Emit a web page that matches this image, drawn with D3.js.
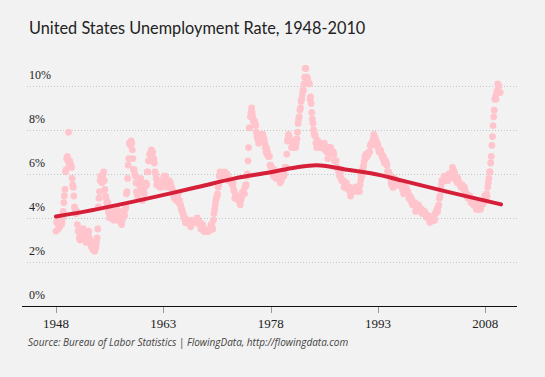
<!DOCTYPE html>
<html>
<head>
<meta charset="utf-8">
<script src="https://cdn.jsdelivr.net/npm/d3@7"></script>
<style>
  body { margin: 0; background: #f2f2f2; }
  svg { display: block; }
</style>
</head>
<body>
<div id="chart"><svg width="545" height="377"></svg></div>
<script>
// monthly unemployment rate (%), one row per year, Jan 1948 onward
const startYear = 1948;
const monthlyRates = [
  3.4, 3.8, 4.0, 3.9, 3.5, 3.6, 3.6, 3.9, 3.8, 3.7, 3.8, 4.0,
  4.3, 4.7, 5.0, 5.3, 6.1, 6.2, 6.7, 6.8, 6.6, 7.9, 6.4, 6.6,
  6.5, 6.4, 6.3, 5.8, 5.5, 5.4, 5.0, 4.5, 4.4, 4.2, 4.2, 4.3,
  3.7, 3.4, 3.4, 3.1, 3.0, 3.2, 3.1, 3.1, 3.3, 3.5, 3.5, 3.1,
  3.2, 3.1, 2.9, 2.9, 3.0, 3.0, 3.2, 3.4, 3.1, 3.0, 2.8, 2.7,
  2.9, 2.6, 2.6, 2.7, 2.5, 2.5, 2.6, 2.7, 2.9, 3.1, 3.5, 4.5,
  4.9, 5.2, 5.7, 5.9, 5.9, 5.6, 5.8, 6.0, 6.1, 5.7, 5.3, 5.0,
  4.9, 4.7, 4.6, 4.7, 4.3, 4.2, 4.0, 4.2, 4.1, 4.3, 4.2, 4.2,
  4.0, 3.9, 4.2, 4.0, 4.3, 4.3, 4.4, 4.1, 3.9, 3.9, 4.3, 4.2,
  4.2, 3.9, 3.7, 3.9, 4.1, 4.3, 4.2, 4.1, 4.4, 4.5, 5.1, 5.2,
  5.8, 6.4, 6.7, 7.4, 7.4, 7.3, 7.5, 7.4, 7.1, 6.7, 6.2, 6.2,
  6.0, 5.9, 5.6, 5.2, 5.1, 5.0, 5.1, 5.2, 5.5, 5.7, 5.8, 5.3,
  5.2, 4.8, 5.4, 5.2, 5.1, 5.4, 5.5, 5.6, 5.5, 6.1, 6.1, 6.6,
  6.6, 6.9, 6.9, 7.0, 7.1, 6.9, 7.0, 6.6, 6.7, 6.5, 6.1, 6.0,
  5.8, 5.5, 5.6, 5.6, 5.5, 5.5, 5.4, 5.7, 5.6, 5.4, 5.7, 5.5,
  5.7, 5.9, 5.7, 5.7, 5.9, 5.6, 5.6, 5.4, 5.5, 5.5, 5.7, 5.5,
  5.6, 5.4, 5.4, 5.3, 5.1, 5.2, 4.9, 5.0, 5.1, 5.1, 4.8, 5.0,
  4.9, 5.1, 4.7, 4.8, 4.6, 4.6, 4.4, 4.4, 4.3, 4.2, 4.1, 4.0,
  4.0, 3.8, 3.8, 3.8, 3.9, 3.8, 3.8, 3.8, 3.7, 3.7, 3.6, 3.8,
  3.9, 3.8, 3.8, 3.8, 3.8, 3.9, 3.8, 3.8, 3.8, 4.0, 3.9, 3.8,
  3.7, 3.8, 3.7, 3.5, 3.5, 3.7, 3.7, 3.5, 3.4, 3.4, 3.4, 3.4,
  3.4, 3.4, 3.4, 3.4, 3.4, 3.5, 3.5, 3.5, 3.7, 3.7, 3.5, 3.5,
  3.9, 4.2, 4.4, 4.6, 4.8, 4.9, 5.0, 5.1, 5.4, 5.5, 5.9, 6.1,
  5.9, 5.9, 6.0, 5.9, 5.9, 5.9, 6.0, 6.1, 6.0, 5.8, 6.0, 6.0,
  5.8, 5.7, 5.8, 5.7, 5.7, 5.7, 5.6, 5.6, 5.5, 5.6, 5.3, 5.2,
  4.9, 5.0, 4.9, 5.0, 4.9, 4.9, 4.8, 4.8, 4.8, 4.6, 4.8, 4.9,
  5.1, 5.2, 5.1, 5.1, 5.1, 5.4, 5.5, 5.5, 5.9, 6.0, 6.6, 7.2,
  8.1, 8.1, 8.6, 8.8, 9.0, 8.8, 8.6, 8.4, 8.4, 8.4, 8.3, 8.2,
  7.9, 7.7, 7.6, 7.7, 7.4, 7.6, 7.8, 7.8, 7.6, 7.7, 7.8, 7.8,
  7.5, 7.6, 7.4, 7.2, 7.0, 7.2, 6.9, 7.0, 6.8, 6.8, 6.8, 6.4,
  6.4, 6.3, 6.3, 6.1, 6.0, 5.9, 6.2, 5.9, 6.0, 5.8, 5.9, 6.0,
  5.9, 5.9, 5.8, 5.8, 5.6, 5.7, 5.7, 6.0, 5.9, 6.0, 5.9, 6.0,
  6.3, 6.3, 6.3, 6.9, 7.5, 7.6, 7.8, 7.7, 7.5, 7.5, 7.5, 7.2,
  7.5, 7.4, 7.4, 7.2, 7.5, 7.5, 7.2, 7.4, 7.6, 7.9, 8.3, 8.5,
  8.6, 8.9, 9.0, 9.3, 9.4, 9.6, 9.8, 9.8, 10.1, 10.4, 10.8, 10.8,
  10.4, 10.4, 10.3, 10.2, 10.1, 10.1, 9.4, 9.5, 9.2, 8.8, 8.5, 8.3,
  8.0, 7.8, 7.8, 7.7, 7.4, 7.2, 7.5, 7.5, 7.3, 7.4, 7.2, 7.3,
  7.3, 7.2, 7.2, 7.3, 7.2, 7.4, 7.4, 7.1, 7.1, 7.1, 7.0, 7.0,
  6.7, 7.2, 7.2, 7.1, 7.2, 7.2, 7.0, 6.9, 7.0, 7.0, 6.9, 6.6,
  6.6, 6.6, 6.6, 6.3, 6.3, 6.2, 6.1, 6.0, 5.9, 6.0, 5.8, 5.7,
  5.7, 5.7, 5.7, 5.4, 5.6, 5.4, 5.4, 5.6, 5.4, 5.4, 5.3, 5.3,
  5.4, 5.2, 5.0, 5.2, 5.2, 5.3, 5.2, 5.2, 5.3, 5.3, 5.4, 5.4,
  5.4, 5.3, 5.2, 5.4, 5.4, 5.2, 5.5, 5.7, 5.9, 5.9, 6.2, 6.3,
  6.4, 6.6, 6.8, 6.7, 6.9, 6.9, 6.8, 6.9, 6.9, 7.0, 7.0, 7.3,
  7.3, 7.4, 7.4, 7.4, 7.6, 7.8, 7.7, 7.6, 7.6, 7.3, 7.4, 7.4,
  7.3, 7.1, 7.0, 7.1, 7.1, 7.0, 6.9, 6.8, 6.7, 6.8, 6.6, 6.5,
  6.6, 6.6, 6.5, 6.4, 6.1, 6.1, 6.1, 6.0, 5.9, 5.8, 5.6, 5.5,
  5.6, 5.4, 5.4, 5.8, 5.6, 5.6, 5.7, 5.7, 5.6, 5.5, 5.6, 5.6,
  5.6, 5.5, 5.5, 5.6, 5.6, 5.3, 5.5, 5.1, 5.2, 5.2, 5.4, 5.4,
  5.3, 5.2, 5.2, 5.1, 4.9, 5.0, 4.9, 4.8, 4.9, 4.7, 4.6, 4.7,
  4.6, 4.6, 4.7, 4.3, 4.4, 4.5, 4.5, 4.5, 4.6, 4.5, 4.4, 4.4,
  4.3, 4.4, 4.2, 4.3, 4.2, 4.3, 4.3, 4.2, 4.2, 4.1, 4.1, 4.0,
  4.0, 4.1, 4.0, 3.8, 4.0, 4.0, 4.0, 4.1, 3.9, 3.9, 3.9, 3.9,
  4.2, 4.2, 4.3, 4.4, 4.3, 4.5, 4.6, 4.9, 5.0, 5.3, 5.5, 5.7,
  5.7, 5.7, 5.7, 5.9, 5.8, 5.8, 5.8, 5.7, 5.7, 5.7, 5.9, 6.0,
  5.8, 5.9, 5.9, 6.0, 6.1, 6.3, 6.2, 6.1, 6.1, 6.0, 5.8, 5.7,
  5.7, 5.6, 5.8, 5.6, 5.6, 5.6, 5.5, 5.4, 5.4, 5.5, 5.4, 5.4,
  5.3, 5.4, 5.2, 5.2, 5.1, 5.0, 5.0, 4.9, 5.0, 5.0, 5.0, 4.9,
  4.7, 4.8, 4.7, 4.7, 4.6, 4.6, 4.7, 4.7, 4.5, 4.4, 4.5, 4.4,
  4.6, 4.5, 4.4, 4.5, 4.4, 4.6, 4.7, 4.6, 4.7, 4.7, 4.7, 5.0,
  5.0, 4.9, 5.1, 5.0, 5.4, 5.6, 5.8, 6.1, 6.1, 6.5, 6.8, 7.3,
  7.7, 8.2, 8.6, 8.9, 9.4, 9.5, 9.4, 9.7, 9.8, 10.1, 10.0, 10.0,
  9.7, 9.7
];

// smoothed trend
const trendYears  = [1948, 1952, 1957, 1964, 1968, 1973, 1978, 1981.5, 1984.4, 1989, 1993.3, 1996, 2002.6, 2010.2];
const trendValues = [4.07, 4.29, 4.62, 5.12, 5.42, 5.80, 6.08, 6.30, 6.40, 6.18, 5.95, 5.73, 5.20, 4.62];

const xTicks = [1948, 1963, 1978, 1993, 2008];
const yTicks = [0, 2, 4, 6, 8, 10];

const title = "United States Unemployment Rate, 1948-2010";
const source = "Source: Bureau of Labor Statistics | FlowingData, http://flowingdata.com";

const serif = "Liberation Serif, Times New Roman, serif";

/***** SETUP *****/
const svg = d3.select("#chart").select("svg");
const width = 545, height = 377;

svg.append("rect")
    .attr("width", width)
    .attr("height", height)
    .attr("fill", "#f2f2f2");

const data = monthlyRates.map((v, i) => ({ t: startYear + i / 12, rate: v }));

/***** SCALES *****/
const xScale = d3.scaleLinear()
    .domain([1948, 2008])
    .range([56, 485.3]);

const yScale = d3.scaleLinear()
    .domain([0, 10])
    .range([306, 86]);

const plotLeft = 27, plotRight = 519;

/***** GRID + Y LABELS *****/
const grid = svg.append("g").attr("class", "yGrid");

grid.selectAll("line")
    .data(yTicks.filter(d => d > 0))
    .join("line")
        .attr("x1", plotLeft)
        .attr("x2", plotRight)
        .attr("y1", d => Math.round(yScale(d)) + 0.5)
        .attr("y2", d => Math.round(yScale(d)) + 0.5)
        .attr("stroke", "#c4c4c4")
        .attr("stroke-width", 1)
        .attr("stroke-dasharray", "1,2");

grid.selectAll("text")
    .data(yTicks)
    .join("text")
        .attr("x", 29)
        .attr("y", d => yScale(d) - 7)
        .attr("font-family", serif)
        .attr("font-size", 12)
        .attr("fill", "#222")
        .text(d => d + "%");

/***** DOTS *****/
svg.append("g").attr("class", "dots")
    .selectAll("circle")
    .data(data)
    .join("circle")
        .attr("cx", d => xScale(d.t))
        .attr("cy", d => yScale(d.rate))
        .attr("r", 3.4)
        .attr("fill", "#ffc4cc");

/***** TREND LINE *****/
const line = d3.line()
    .x(d => xScale(d[0]))
    .y(d => yScale(d[1]))
    .curve(d3.curveMonotoneX);

svg.append("path")
    .datum(trendYears.map((y, i) => [y, trendValues[i]]))
    .attr("d", line)
    .attr("fill", "none")
    .attr("stroke", "#d62039")
    .attr("stroke-width", 4)
    .attr("stroke-linecap", "round");

/***** X AXIS *****/
const xAxis = svg.append("g").attr("class", "xAxis");

xAxis.append("line")
    .attr("x1", plotLeft - 5)
    .attr("x2", plotRight - 2)
    .attr("y1", 306.5)
    .attr("y2", 306.5)
    .attr("stroke", "#111")
    .attr("stroke-width", 1.2);

xAxis.selectAll(".tick")
    .data(xTicks)
    .join("line")
        .attr("class", "tick")
        .attr("x1", d => Math.round(xScale(d)) + 0.5)
        .attr("x2", d => Math.round(xScale(d)) + 0.5)
        .attr("y1", 307)
        .attr("y2", 313)
        .attr("stroke", "#999");

xAxis.selectAll(".tickLabel")
    .data(xTicks)
    .join("text")
        .attr("class", "tickLabel")
        .attr("x", d => xScale(d))
        .attr("y", 328)
        .attr("text-anchor", "middle")
        .attr("font-family", serif)
        .attr("font-size", 13)
        .attr("fill", "#222")
        .text(d => d);

/***** TITLE, CAPTION *****/
svg.append("text")
    .attr("x", 29)
    .attr("y", 34)
    .attr("font-family", "Lato, sans-serif")
    .attr("font-size", 16.3)
    .attr("fill", "#222")
    .text(title);

svg.append("text")
    .attr("x", 28)
    .attr("y", 346)
    .attr("font-family", "Open Sans, sans-serif")
    .attr("font-style", "italic")
    .attr("font-size", 10)
    .attr("fill", "#444")
    .text(source);
</script>
</body>
</html>
